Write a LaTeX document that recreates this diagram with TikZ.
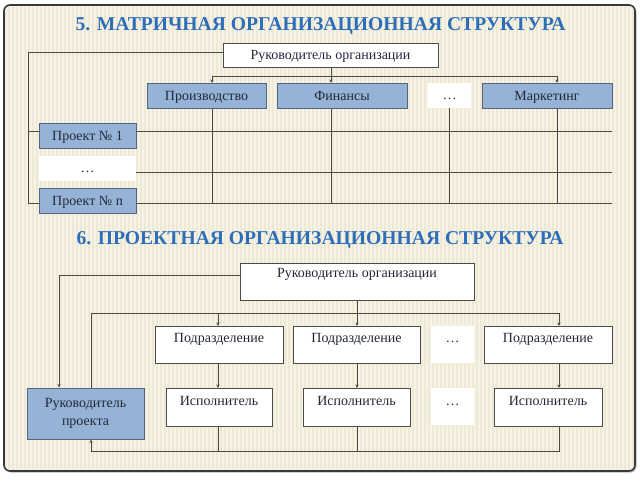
\documentclass[tikz,border=0pt]{standalone}
\usepackage{fontspec}
\setmainfont{Liberation Serif}
\usetikzlibrary{arrows.meta, backgrounds}

\definecolor{cream}{RGB}{237,233,213}
\definecolor{stripe}{RGB}{246,243,230}
\definecolor{titleblue}{RGB}{46,110,184}
\definecolor{boxblue}{RGB}{149,179,215}
\definecolor{boxedge}{RGB}{86,100,124}
\definecolor{wirecol}{RGB}{76,74,64}
\definecolor{ink}{RGB}{36,40,54}

\begin{document}
\begin{tikzpicture}[x=1pt, y=-1pt, >={Stealth[length=3.5pt, width=3.2pt]},
    wire/.style={draw=wirecol, line width=0.9pt},
    boxtext/.style={text=ink, font=\fontsize{14}{16}\selectfont, inner sep=0pt},
    bluebox/.style={boxtext, draw=boxedge, fill=boxblue, line width=1pt},
    whitebox/.style={boxtext, draw=gray!60!black, fill=white, line width=0.9pt},
    gapbox/.style={boxtext, fill=white},
    row/.style={text height=16.5pt, text depth=8pt},
    title/.style={font=\bfseries\fontsize{19.6}{22}\selectfont, text=titleblue}]
    \useasboundingbox (0,0) rectangle (640,480);

    %% matrix structure
    \node[title] (t5) at (320.5,26) {5. МАТРИЧНАЯ ОРГАНИЗАЦИОННАЯ СТРУКТУРА};
    \node[whitebox, minimum width=215pt, text height=16.5pt, text depth=7.5pt] (head) at (330.5,43) [anchor=north] {Руководитель организации};
    \node[bluebox, row, minimum width=119pt] (prod) at (206.5,83) [anchor=north] {Производство};
    \node[bluebox, row, minimum width=130pt] (fin) at (342,83) [anchor=north] {Финансы};
    \node[gapbox, row, minimum width=43pt] (gap1) at (449.5,83) [anchor=north] {…};
    \node[bluebox, row, minimum width=130pt] (mark) at (547,83) [anchor=north] {Маркетинг};
    \node[bluebox, row, minimum width=97pt] (proj1) at (87.5,123) [anchor=north] {Проект № 1};
    \node[gapbox, row, minimum width=97pt] (gap2) at (87.5,156) [anchor=north] {…};
    \node[bluebox, row, minimum width=97pt] (projn) at (87.5,188) [anchor=north] {Проект № n};

    %% project structure
    \node[title] (t6) at (320,240) {6. ПРОЕКТНАЯ ОРГАНИЗАЦИОННАЯ СТРУКТУРА};
    \node[whitebox, minimum width=234pt, text height=14pt, text depth=23pt] (head2) at (357,263) [anchor=north] {Руководитель организации};
    \node[whitebox, minimum width=128pt, text height=16.5pt, text depth=20.5pt] (div1) at (219,326) [anchor=north] {Подразделение};
    \node[whitebox, minimum width=127pt, text height=16.5pt, text depth=20.5pt] (div2) at (356.5,326) [anchor=north] {Подразделение};
    \node[gapbox, minimum width=43pt, text height=16.5pt, text depth=20.5pt] (gap3) at (452.5,326) [anchor=north] {…};
    \node[whitebox, minimum width=128pt, text height=16.5pt, text depth=20.5pt] (div3) at (548,326) [anchor=north] {Подразделение};
    \node[bluebox, minimum width=117pt, minimum height=51pt, align=center] (lead) at (85.5,413.5) {Руководитель\\[2pt]проекта};
    \node[whitebox, minimum width=106pt, text height=17pt, text depth=21pt] (exe1) at (219,388) [anchor=north] {Исполнитель};
    \node[whitebox, minimum width=107pt, text height=17pt, text depth=21pt] (exe2) at (356.5,388) [anchor=north] {Исполнитель};
    \node[gapbox, minimum width=43pt, text height=17pt, text depth=20pt] (gap4) at (452.5,388) [anchor=north] {…};
    \node[whitebox, minimum width=108pt, text height=17pt, text depth=21pt] (exe3) at (548,388) [anchor=north] {Исполнитель};

    \coordinate (c1) at (212,76);
    \coordinate (c2) at (331,76);
    \coordinate (c4) at (557,76);
    \coordinate (left) at (28,52);
    \coordinate (rowa) at (612,131);
    \coordinate (rowb) at (612,172);
    \coordinate (rowc) at (612,203);
    \coordinate (lk) at (59,275);
    \coordinate (lb) at (91,313);
    \coordinate (d1) at (218,313);
    \coordinate (d3) at (559,313);
    \coordinate (bb) at (91,451);

    \begin{scope}[on background layer]
      %% frame and striped paper
      \fill[white] (0,0) rectangle (640,480);
      \fill[gray!55, rounded corners=6pt] (5.5,6.5) rectangle (636.5,472.5);
      \begin{scope}
        \clip[rounded corners=6pt] (4,5) rectangle (635,471);
        \fill[cream] (4,5) rectangle (635,471);
        \foreach \x in {6,10,...,634}
          \fill[stripe] (\x,5) rectangle ++(1.6,466);
      \end{scope}
      \draw[gray!45!black, line width=1.6pt, rounded corners=6pt] (4,5) rectangle (635,471);

      \draw[wire] (head.south -| c2) -- (c2);
      \draw[wire] (c1) -- (c4);
      \draw[wire, ->] (c1) -- (c1 |- prod.north);
      \draw[wire, ->] (c2) -- (c2 |- fin.north);
      \draw[wire, ->] (c4) -- (c4 |- mark.north);
      \draw[wire] (c1 |- prod.south) -- (c1 |- rowc);
      \draw[wire] (c2 |- fin.south) -- (c2 |- rowc);
      \draw[wire] (gap1.south) -- (gap1.south |- rowc);
      \draw[wire] (c4 |- mark.south) -- (c4 |- rowc);
      \draw[wire] (head.west |- left) -- (left) -- (left |- rowc) -- (rowc);
      \draw[wire] (left |- rowa) -- (rowa);
      \draw[wire] (gap2.east |- rowb) -- (rowb);

      \draw[wire, ->] (head2.west |- lk) -- (lk) -- (lk |- lead.north);
      \draw[wire] (lb |- lead.north) -- (lb) -- (d3);
      \draw[wire] (head2.south) -- (head2.south |- d1);
      \draw[wire, ->] (d1) -- (d1 |- div1.north);
      \draw[wire, ->] (head2.south |- d1) -- (head2.south |- div2.north);
      \draw[wire, ->] (d3) -- (d3 |- div3.north);
      \draw[wire, ->] (d1 |- div1.south) -- (d1 |- exe1.north);
      \draw[wire, ->] (head2.south |- div2.south) -- (head2.south |- exe2.north);
      \draw[wire, ->] (d3 |- div3.south) -- (d3 |- exe3.north);
      \draw[wire] (d1 |- exe1.south) -- (d1 |- bb);
      \draw[wire] (head2.south |- exe2.south) -- (head2.south |- bb);
      \draw[wire, ->] (d3 |- exe3.south) -- (d3 |- bb) -- (bb) -- (bb |- lead.south);
    \end{scope}
  \end{tikzpicture}
\end{document}
